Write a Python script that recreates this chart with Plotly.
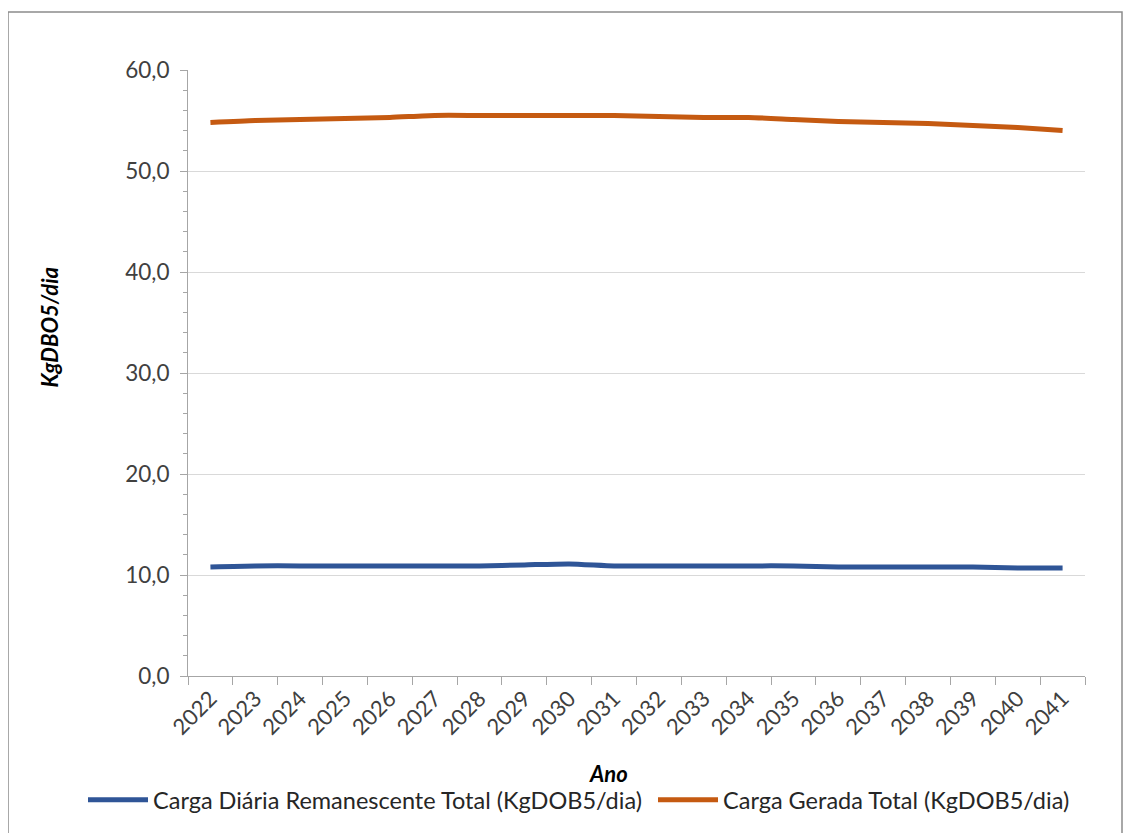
import plotly.graph_objects as go

anos = [str(a) for a in range(2022, 2042)]
carga_remanescente = [10.8, 10.9, 10.9, 10.9, 10.9, 10.9, 10.9, 11.0, 11.1, 10.9,
                      10.9, 10.9, 10.9, 10.9, 10.8, 10.8, 10.8, 10.8, 10.7, 10.7]
carga_gerada = [54.8, 55.0, 55.1, 55.2, 55.3, 55.5, 55.5, 55.5, 55.5, 55.5,
                55.4, 55.3, 55.3, 55.1, 54.9, 54.8, 54.7, 54.5, 54.3, 54.0]
y_ticks = [0, 10, 20, 30, 40, 50, 60]
y_labels = ["0,0", "10,0", "20,0", "30,0", "40,0", "50,0", "60,0"]

# page body adds an 8px offset, so everything below is in page coords minus 8
W, H = 1123, 825
L, R, T, B = 180, 46, 62, 156
pw, ph = W - L - R, H - T - B


def px_x(x):
    return (x - 8 - L) / pw


def px_y(y):
    return 1 - (y - 8 - T) / ph


font = "Lato"
txt = "#404040"

fig = go.Figure()
fig.add_trace(go.Scatter(x=anos, y=carga_remanescente, mode="lines",
                         name="Carga Diária Remanescente Total (KgDOB5/dia)",
                         line=dict(color="#2F5597", width=5, shape="spline", smoothing=0.6),
                         legend="legend"))
fig.add_trace(go.Scatter(x=anos, y=carga_gerada, mode="lines",
                         name="Carga Gerada Total (KgDOB5/dia)",
                         line=dict(color="#C55A11", width=5, shape="spline", smoothing=0.6),
                         legend="legend2"))

leg = dict(orientation="h", y=px_y(800), xanchor="left", yanchor="middle",
           font=dict(size=23.5, color="#262626"), itemwidth=60,
           bgcolor="rgba(0,0,0,0)")

fig.update_layout(
    width=W, height=H, autosize=False,
    margin=dict(l=L, r=R, t=T, b=B),
    plot_bgcolor="white", paper_bgcolor="white",
    font=dict(family=font, color=txt, size=21),
    showlegend=True,
    legend=dict(leg, x=px_x(83)),
    legend2=dict(leg, x=px_x(653)),
)
fig.update_xaxes(
    type="category", tickangle=-45, showgrid=False,
    showline=True, linecolor="#a6a6a6", linewidth=1,
    ticks="outside", ticklen=8, tickcolor="#a6a6a6", tickson="boundaries",
    tickfont=dict(size=22, color=txt), range=[-0.5, 19.5],
)
fig.update_yaxes(
    range=[0, 60], tickvals=y_ticks, ticktext=y_labels,
    showgrid=True, gridcolor="#d9d9d9", gridwidth=1, zeroline=False,
    showline=True, linecolor="#a6a6a6", linewidth=1,
    ticks="outside", ticklen=7, tickcolor="#a6a6a6", ticklabelstandoff=6,
    minor=dict(dtick=2, ticks="outside", ticklen=4, tickcolor="#a6a6a6", showgrid=False),
    tickfont=dict(size=22.5, color=txt),
)

fig.add_annotation(text="<b><i>Ano</i></b>", xref="paper", yref="paper",
                   x=px_x(608), y=px_y(775), showarrow=False,
                   font=dict(size=22, color="black"), xanchor="center", yanchor="middle")
fig.add_annotation(text="<b><i>KgDBO5/dia</i></b>", xref="paper", yref="paper",
                   x=px_x(50), y=px_y(328), showarrow=False, textangle=-90,
                   font=dict(size=22, color="black"), xanchor="center", yanchor="middle")

fig.add_shape(type="rect", xref="paper", yref="paper",
              x0=px_x(8), x1=px_x(1122),
              y0=px_y(850), y1=px_y(12),
              line=dict(color="#8c8c8c", width=1.5), layer="below")

fig.write_html("out.html")
